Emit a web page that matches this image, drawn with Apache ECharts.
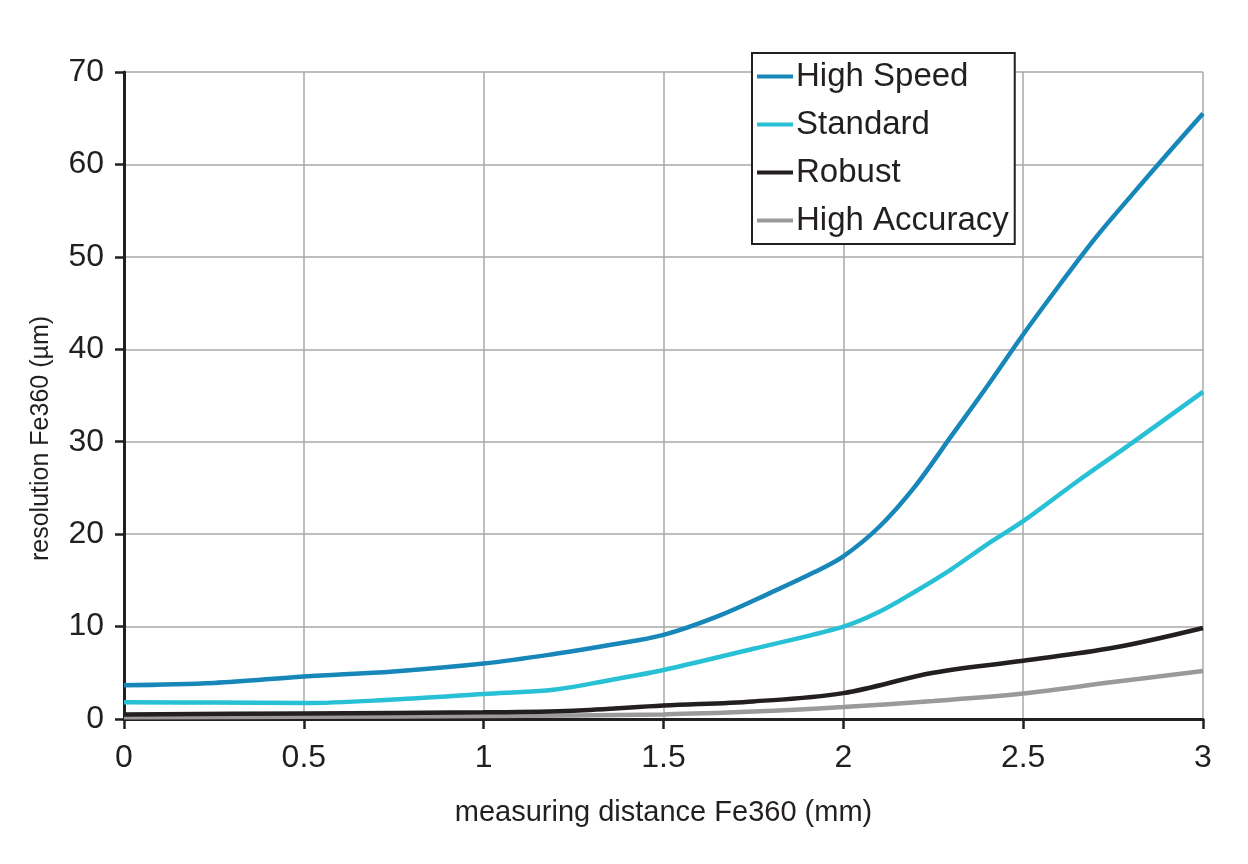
<!DOCTYPE html>
<html>
<head>
<meta charset="utf-8">
<script src="https://cdn.jsdelivr.net/npm/echarts@6/dist/echarts.min.js"></script>
<style>
html,body{margin:0;padding:0;background:#fff;}
#chart{width:1248px;height:864px;}
</style>
</head>
<body>
<div id="chart"></div>
<script>
// Series names
const seriesNames = ['High Speed', 'Standard', 'Robust', 'High Accuracy'];
// Data: [measuring distance (mm), resolution (µm)]
const highSpeed = [
  [0, 3.65], [0.25, 3.9], [0.5, 4.6], [0.75, 5.15], [1.0, 6.0], [1.2, 7.05],
  [1.35, 8.0], [1.5, 9.1], [1.65, 11.1], [1.8, 13.7], [1.92, 15.9], [2.0, 17.6],
  [2.1, 20.8], [2.2, 25.2], [2.3, 30.6], [2.4, 36.0], [2.5, 41.6],
  [2.6, 46.9], [2.7, 52.0], [2.8, 56.6], [2.9, 61.1], [3.0, 65.5]
];
const standard = [
  [0, 1.8], [0.25, 1.78], [0.5, 1.72], [0.75, 2.1], [1.0, 2.7], [1.2, 3.2],
  [1.35, 4.2], [1.5, 5.3], [1.75, 7.6], [2.0, 10.0], [2.1, 11.6],
  [2.2, 13.8], [2.3, 16.2], [2.4, 18.9], [2.5, 21.4], [2.65, 25.7], [2.8, 29.8],
  [3.0, 35.4]
];
const robust = [
  [0, 0.5], [0.5, 0.6], [1.0, 0.72], [1.25, 0.9], [1.5, 1.45], [1.75, 1.9],
  [2.0, 2.8], [2.25, 5.0], [2.5, 6.3], [2.75, 7.7], [3.0, 9.85]
];
const highAccuracy = [
  [0, 0.2], [0.5, 0.25], [1.0, 0.32], [1.5, 0.5], [1.75, 0.8],
  [2.0, 1.3], [2.25, 1.95], [2.5, 2.75], [2.75, 4.0], [3.0, 5.2]
];
const colors = ['#1787b9', '#27c0d4', '#231f20', '#9a9a9a'];
const xAxisName = 'measuring distance Fe360 (mm)';
const yAxisName = 'resolution Fe360 (µm)';

const allData = [highSpeed, standard, robust, highAccuracy];
const font = 'Liberation Sans, Arial, Helvetica, sans-serif';

const chart = echarts.init(document.getElementById('chart'));
chart.setOption({
  backgroundColor: '#ffffff',
  animation: false,
  textStyle: { fontFamily: font, color: '#231f20' },
  grid: { left: 124, right: 45, top: 72, bottom: 145, containLabel: false },
  legend: {
    orient: 'vertical',
    left: 752,
    top: 53,
    backgroundColor: '#ffffff',
    borderColor: '#231f20',
    borderWidth: 2,
    borderRadius: 0,
    padding: [7, 6, 7, 5],
    itemGap: 15,
    itemWidth: 36,
    itemHeight: 4,
    icon: 'rect',
    data: seriesNames,
    textStyle: { fontSize: 33, color: '#231f20', fontFamily: font, padding: [0, 0, 0, -2] }
  },
  xAxis: {
    type: 'value',
    min: 0, max: 3, interval: 0.5,
    name: xAxisName,
    nameLocation: 'middle',
    nameGap: 79,
    nameTextStyle: { fontSize: 29, color: '#231f20', fontFamily: font },
    axisLine: { show: true, onZero: false, lineStyle: { color: '#231f20', width: 3 } },
    axisTick: { show: true, length: 10, lineStyle: { color: '#231f20', width: 2.5 } },
    axisLabel: { fontSize: 32, color: '#231f20', margin: 23, fontFamily: font },
    splitLine: { show: true, lineStyle: { color: '#a8a8a8', width: 1.5 } }
  },
  yAxis: {
    type: 'value',
    min: 0, max: 70, interval: 10,
    name: yAxisName,
    nameLocation: 'middle',
    nameGap: 70,
    nameTextStyle: { fontSize: 25, color: '#231f20', fontFamily: font, padding: [0, 86, 0, 0] },
    axisLine: { show: true, onZero: false, lineStyle: { color: '#231f20', width: 3 } },
    axisTick: { show: true, length: 9, lineStyle: { color: '#231f20', width: 2.5 } },
    axisLabel: { fontSize: 32, color: '#231f20', margin: 20, fontFamily: font },
    splitLine: { show: true, lineStyle: { color: '#a8a8a8', width: 1.5 } }
  },
  series: seriesNames.map((n, i) => ({
    name: n,
    type: 'line',
    data: allData[i],
    smooth: 0.35,
    symbol: 'none',
    color: colors[i],
    lineStyle: { color: colors[i], width: 4.5 },
    z: 10 - i
  }))
});
</script>
</body>
</html>
